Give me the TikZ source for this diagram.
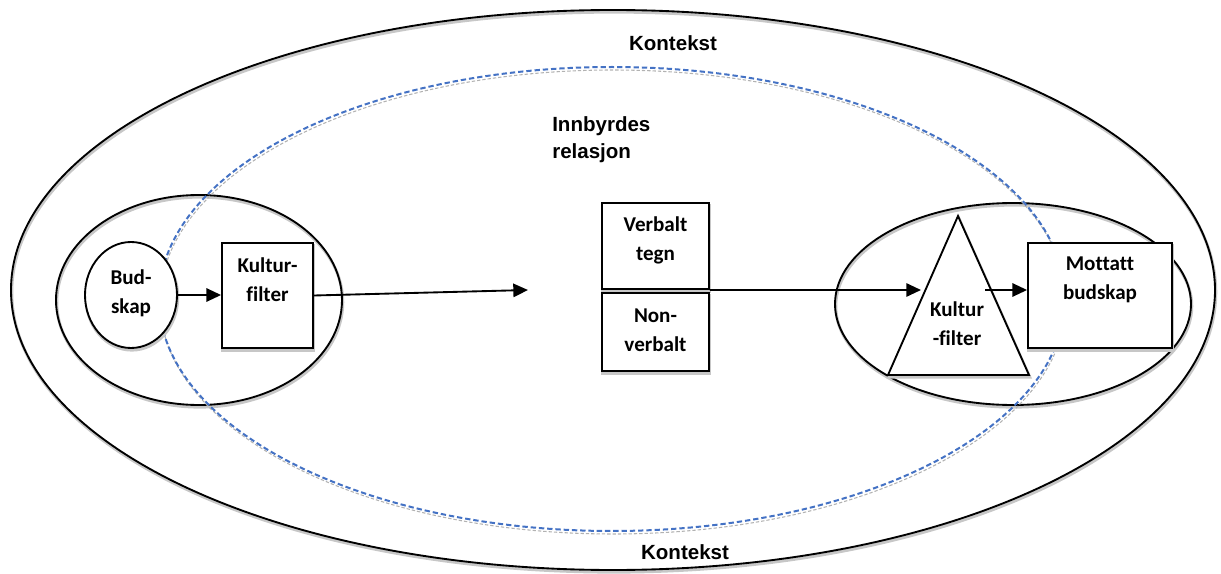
\documentclass[tikz,border=0pt]{standalone}
\usepackage{fontspec}
\setmainfont{Carlito}[Ligatures=NoCommon]
\newfontfamily\arialfont{Liberation Sans}
\usetikzlibrary{arrows.meta,shapes.geometric}
\definecolor{dashblue}{RGB}{68,114,196}
\tikzset{
  ln/.style={line width=1.4pt},
  shd/.style={preaction={draw=black!22, line width=2.2pt, transform canvas={xshift=0.6pt,yshift=-1.6pt}}},
  boxnode/.style={draw, ln, fill=white, shd, inner sep=0pt},
  calib/.style={font=\bfseries\fontsize{15.8}{21.75}\selectfont, align=center, inner sep=0pt},
  arial/.style={font=\arialfont\bfseries\fontsize{15.4}{20}\selectfont, inner sep=0pt},
  arr/.style={ln, -{Triangle[length=11pt,width=10pt]}}
}
\begin{document}
\begin{tikzpicture}[x=0.75pt,y=-0.75pt]
\useasboundingbox (0,0) rectangle (1221,574);
% outer context ellipse
\draw[ln, shd] (613,290) ellipse [x radius=602, y radius=280];
% small ellipses
\draw[ln, shd] (199,300) ellipse [x radius=143, y radius=105];
\draw[ln, shd] (1013,304) ellipse [x radius=178, y radius=101];
% dashed relation ellipse with shadow
\draw[black!30, line width=0.8pt, dash pattern=on 2.5pt off 1.5pt] (613,302) ellipse [x radius=453, y radius=232];
\draw[dashblue, line width=1.5pt, dash pattern=on 4pt off 2.2pt] (612,299) ellipse [x radius=453, y radius=232];
% labels
\node[arial] (k1) at (673,43) {Kontekst};
\node[arial] (k2) at (685,552) {Kontekst};
\node[arial, align=left, anchor=west] (rel) at (552,140) {Innbyrdes\\relasjon};
% left side
\node[boxnode, ellipse, minimum width=92*0.75pt, minimum height=106*0.75pt] (bud) at (131,295) {};
\node[calib] (budt) at (131,293) {Bud-\\skap};
\node[boxnode, rectangle, minimum width=91*0.75pt, minimum height=105*0.75pt] (kf) at (267.5,295.5) {};
\node[calib] (kft) at (267.5,280) {Kultur-\\filter};
% center boxes
\node[boxnode, rectangle, minimum width=107*0.75pt, minimum height=86*0.75pt] (verb) at (655.5,246) {};
\node[calib] (verbt) at (655.5,240) {Verbalt\\tegn};
\node[boxnode, rectangle, minimum width=107*0.75pt, minimum height=78*0.75pt] (nonv) at (655.5,332) {};
\node[calib] (nonvt) at (655.5,330) {Non-\\verbalt};
% triangle
\coordinate (ta) at (958,216);
\coordinate (tl) at (888,375);
\coordinate (tr) at (1029,375);
\draw[ln, shd, fill=white] (ta) -- (tr) -- (tl) -- cycle;
\node[calib] (trit) at (957,324) {Kultur\\-filter};
% received box
\node[boxnode, rectangle, minimum width=144*0.75pt, minimum height=105*0.75pt] (mott) at (1100,295.5) {};
\node[calib] (mottt) at (1100,280) {Mottatt\\budskap};
% connectors
\coordinate (m1) at (528,290);
\coordinate (t1) at (921,290);
\coordinate (t2) at (985,290);
\draw[arr] (bud.east) -- (bud.east -| kf.west);
\draw[arr] (kf.east) -- (m1);
\draw[arr] (verb.south east) -- (t1);
\draw[arr] (t2) -- (t2 -| mott.west);
\end{tikzpicture}
\end{document}
